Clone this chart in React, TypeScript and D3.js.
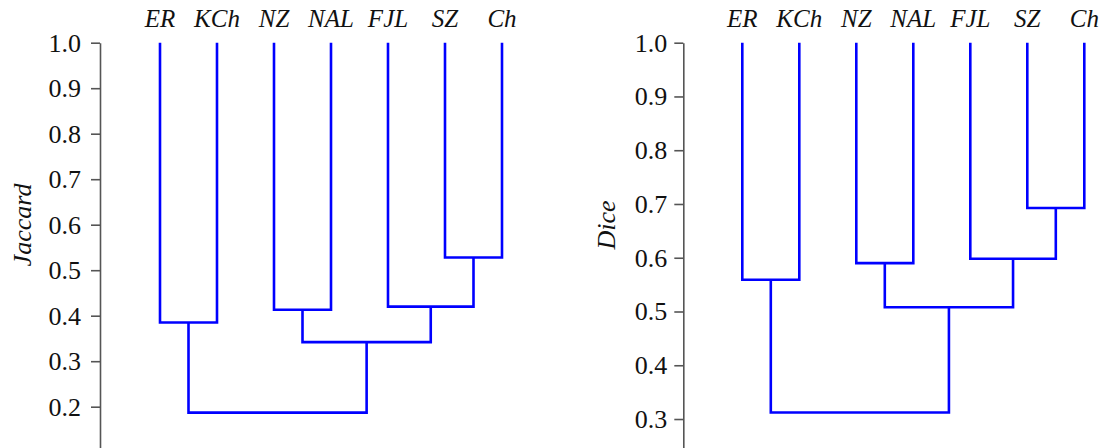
import React, { useEffect, useRef } from 'react';
import * as d3 from 'd3';

// leaves, in drawing order
const leaves = ['ER', 'KCh', 'NZ', 'NAL', 'FJL', 'SZ', 'Ch'];

// merges: [left child, right child, similarity]; children are leaves or earlier merges (m0, m1 ...)
const jaccardMerges: [string, string, number][] = [
  ['ER', 'KCh', 0.385],
  ['NZ', 'NAL', 0.413],
  ['SZ', 'Ch', 0.528],
  ['FJL', 'm2', 0.42],
  ['m1', 'm3', 0.342],
  ['m0', 'm4', 0.187],
];

const diceMerges: [string, string, number][] = [
  ['ER', 'KCh', 0.559],
  ['NZ', 'NAL', 0.59],
  ['SZ', 'Ch', 0.6925],
  ['FJL', 'm2', 0.598],
  ['m1', 'm3', 0.508],
  ['m0', 'm4', 0.312],
];

const jaccardTicks = [0.2, 0.3, 0.4, 0.5, 0.6, 0.7, 0.8, 0.9, 1.0];
const diceTicks = [0.3, 0.4, 0.5, 0.6, 0.7, 0.8, 0.9, 1.0];

const FONT = 'Liberation Serif';

type PanelProps = {
  merges: [string, string, number][];
  ticks: number[];
  title: string;
  axisX: number;
  xRange: [number, number];
  yDomain: [number, number];
  yRange: [number, number];
  titleX: number;
  tickPad: number;
};

const Panel = ({ merges, ticks, title, axisX, xRange, yDomain, yRange, titleX, tickPad }: PanelProps) => {
  const axisRef = useRef<SVGGElement>(null);

  const x = d3.scalePoint<string>().domain(leaves).range(xRange);
  const y = d3.scaleLinear().domain(yDomain).range(yRange);

  useEffect(() => {
    const g = d3.select(axisRef.current);
    g.selectAll('*').remove();
    g.call(
      d3.axisLeft(y)
        .tickValues(ticks)
        .tickFormat(d3.format('.1f'))
        .tickSize(9)
        .tickSizeOuter(0)
        .tickPadding(tickPad)
    );
    g.attr('font-family', null).attr('font-size', null);
    g.select('.domain').attr('stroke', '#555').attr('stroke-width', 1.6);
    g.selectAll('.tick line').attr('stroke', '#555').attr('stroke-width', 1.6);
    g.selectAll('.tick text')
      .attr('fill', '#111')
      .attr('font-family', FONT)
      .attr('font-size', 26);
  }, []);

  // node positions
  const pos: Record<string, { x: number; h: number }> = {};
  leaves.forEach(l => { pos[l] = { x: x(l) as number, h: 1.0 }; });
  const paths: string[] = [];
  merges.forEach(([a, b, h], i) => {
    const pa = pos[a];
    const pb = pos[b];
    paths.push(`M${pa.x},${y(pa.h)}V${y(h)}H${pb.x}V${y(pb.h)}`);
    pos['m' + i] = { x: (pa.x + pb.x) / 2, h };
  });

  return (
    <g>
      <g ref={axisRef} transform={`translate(${axisX},0)`} />
      {paths.map((d, i) => (
        <path key={i} d={d} fill="none" stroke="#0000ff" strokeWidth={2.6} />
      ))}
      {leaves.map(l => (
        <text
          key={l}
          x={x(l)}
          y={27}
          textAnchor="middle"
          fontStyle="italic"
          fontFamily={FONT}
          fontSize={25}
          fill="#111"
        >
          {l}
        </text>
      ))}
      <text
        transform={`translate(${titleX},225) rotate(-90)`}
        textAnchor="middle"
        fontStyle="italic"
        fontFamily={FONT}
        fontSize={26}
        fill="#111"
      >
        {title}
      </text>
    </g>
  );
};

export default function App() {
  return (
    <svg
      width={1102}
      height={448}
      fontFamily={FONT}
      style={{ position: 'absolute', left: 0, top: 0, background: '#fff' }}
    >
      <Panel
        merges={jaccardMerges}
        ticks={jaccardTicks}
        title="Jaccard"
        axisX={100}
        xRange={[160, 502]}
        yDomain={[1.0, 0.1]}
        yRange={[42.7, 42.7 + 9 * 45.5]}
        titleX={31}
        tickPad={10}
      />
      <Panel
        merges={diceMerges}
        ticks={diceTicks}
        title="Dice"
        axisX={683.3}
        xRange={[742.3, 1084.3]}
        yDomain={[1.0, 0.2]}
        yRange={[42.7, 42.7 + 8 * 53.76]}
        titleX={615}
        tickPad={7}
      />
    </svg>
  );
}
